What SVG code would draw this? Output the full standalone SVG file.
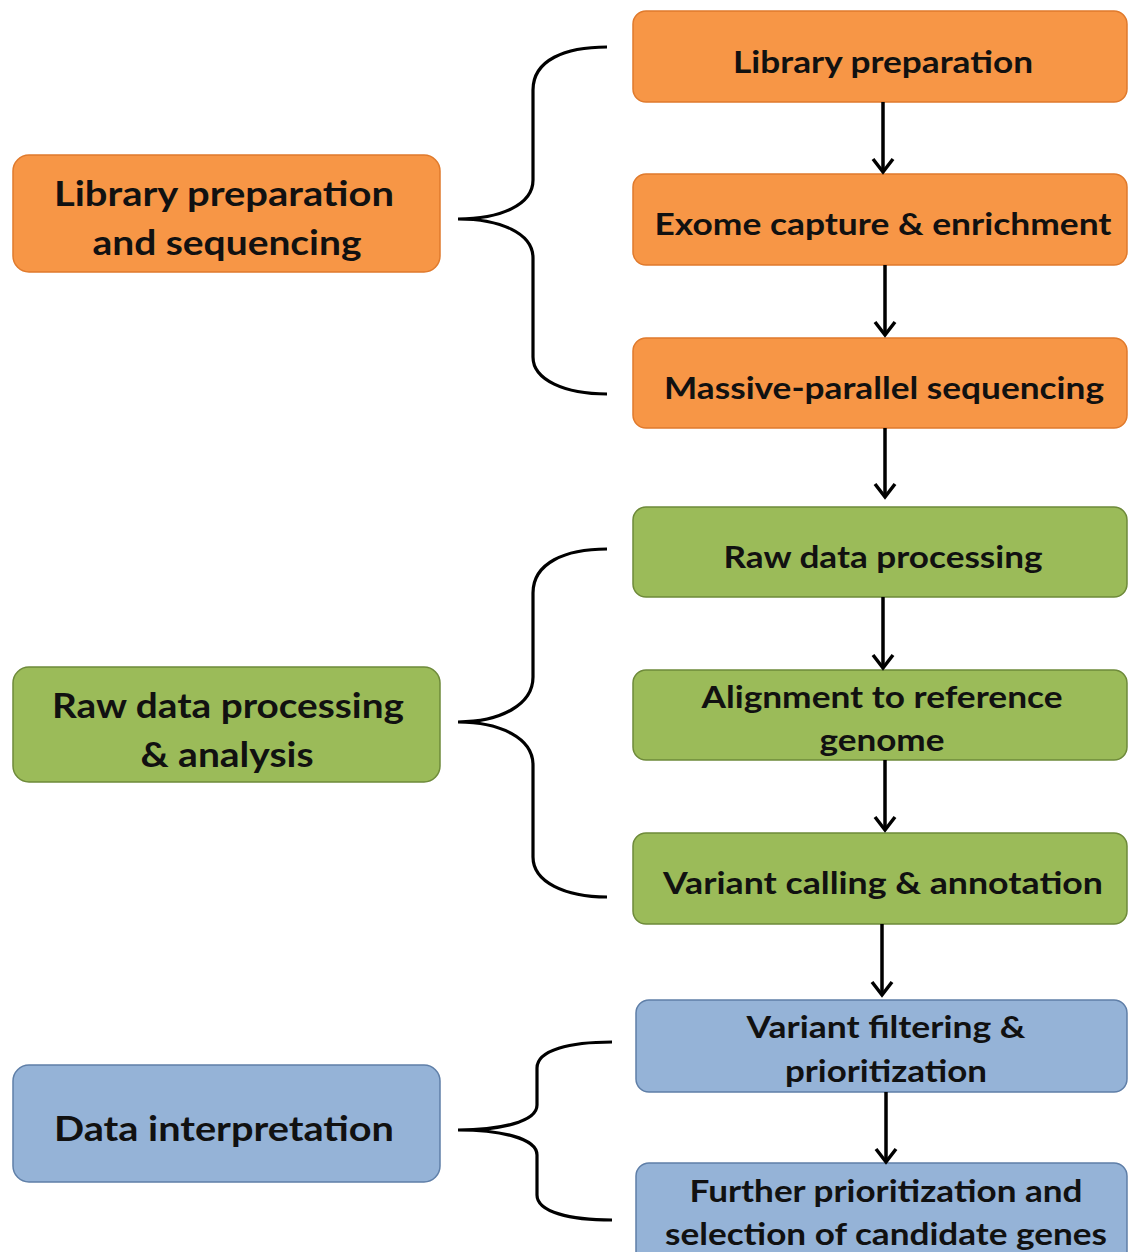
<svg xmlns="http://www.w3.org/2000/svg" width="1128" height="1252" viewBox="0 0 1128 1252">
<style>
.t{font-family:Lato,"Open Sans","Liberation Sans",sans-serif;font-weight:bold;fill:#111;text-anchor:middle}
.r{font-size:31px}
.l{font-size:35px}
.or{fill:#F79646;stroke:#E07A2C;stroke-width:1.5}
.gr{fill:#9BBB59;stroke:#6E8A3A;stroke-width:1.5}
.bl{fill:#95B3D7;stroke:#5F7FA8;stroke-width:1.5}
.br{fill:none;stroke:#000;stroke-width:3.2}
.ar{fill:none;stroke:#000;stroke-width:3.5;marker-end:url(#ah)}
</style>
<defs>
<marker id="ah" markerUnits="userSpaceOnUse" markerWidth="24" markerHeight="24" refX="20" refY="12" orient="auto" viewBox="0 0 24 24">
<path d="M7,2 L20,12 L7,22" fill="none" stroke="#000" stroke-width="3.5"/>
</marker>
</defs>
<rect width="1128" height="1252" fill="#fff"/>
<g id="g-lib-seq"><rect class="or" x="13" y="155" width="427" height="117" rx="16"/>
<text class="t l" x="224" y="206" textLength="340" lengthAdjust="spacingAndGlyphs">Library preparation</text>
<text class="t l" x="227" y="255" textLength="269" lengthAdjust="spacingAndGlyphs">and sequencing</text></g>
<g id="g-raw-analysis"><rect class="gr" x="13" y="667" width="427" height="115" rx="16"/>
<text class="t l" x="228" y="718" textLength="352" lengthAdjust="spacingAndGlyphs">Raw data processing</text>
<text class="t l" x="227" y="767" textLength="173" lengthAdjust="spacingAndGlyphs">&amp; analysis</text></g>
<g id="g-data-interp"><rect class="bl" x="13" y="1065" width="427" height="117" rx="16"/>
<text class="t l" x="224" y="1141" textLength="340" lengthAdjust="spacingAndGlyphs">Data interpretation</text></g>

<g id="n1"><rect class="or" x="633" y="11" width="494" height="91" rx="13"/>
<text class="t r" x="883" y="73" textLength="300" lengthAdjust="spacingAndGlyphs">Library preparation</text></g>
<g id="n2"><rect class="or" x="633" y="174" width="494" height="91" rx="13"/>
<text class="t r" x="883" y="235" textLength="457" lengthAdjust="spacingAndGlyphs">Exome capture &amp; enrichment</text></g>
<g id="n3"><rect class="or" x="633" y="338" width="494" height="90" rx="13"/>
<text class="t r" x="884" y="399" textLength="440" lengthAdjust="spacingAndGlyphs">Massive-parallel sequencing</text></g>
<g id="n4"><rect class="gr" x="633" y="507" width="494" height="90" rx="13"/>
<text class="t r" x="883" y="568" textLength="319" lengthAdjust="spacingAndGlyphs">Raw data processing</text></g>
<g id="n5"><rect class="gr" x="633" y="670" width="494" height="90" rx="13"/>
<text class="t r" x="882" y="708" textLength="361" lengthAdjust="spacingAndGlyphs">Alignment to reference</text>
<text class="t r" x="882" y="751" textLength="125" lengthAdjust="spacingAndGlyphs">genome</text></g>
<g id="n6"><rect class="gr" x="633" y="833" width="494" height="91" rx="13"/>
<text class="t r" x="883" y="894" textLength="440" lengthAdjust="spacingAndGlyphs">Variant calling &amp; annotation</text></g>
<g id="n7"><rect class="bl" x="636" y="1000" width="491" height="92" rx="13"/>
<text class="t r" x="886" y="1038" textLength="279" lengthAdjust="spacingAndGlyphs">Variant filtering &amp;</text>
<text class="t r" x="886" y="1082" textLength="202" lengthAdjust="spacingAndGlyphs">prioritization</text></g>
<g id="n8"><rect class="bl" x="636" y="1163" width="491" height="110" rx="13"/>
<text class="t r" x="886" y="1202" textLength="393" lengthAdjust="spacingAndGlyphs">Further prioritization and</text>
<text class="t r" x="886" y="1245" textLength="442" lengthAdjust="spacingAndGlyphs">selection of candidate genes</text></g>

<g id="connectors">
<path class="br" d="M607,47 C565,47 533,60 533,90 L533,180 C533,205 500,219 458,219 C500,219 533,233 533,258 L533,357 C533,380 565,394 607,394"/>
<path class="br" d="M607,549 C565,549 533,563 533,593 L533,677 C533,705 500,722 458,722 C500,722 533,738 533,765 L533,857 C533,882 565,897 607,897"/>
<path class="br" d="M612,1042 C570,1042 537,1050 537,1068 L537,1105 C537,1122 500,1130 458,1130 C500,1130 537,1138 537,1155 L537,1195 C537,1212 570,1220 612,1220"/>
<path class="ar" d="M883,102 L883,172"/>
<path class="ar" d="M885,265 L885,335"/>
<path class="ar" d="M885,428 L885,497"/>
<path class="ar" d="M883,597 L883,668"/>
<path class="ar" d="M885,760 L885,830"/>
<path class="ar" d="M882,924 L882,995"/>
<path class="ar" d="M886,1092 L886,1162"/>
</g>
</svg>
